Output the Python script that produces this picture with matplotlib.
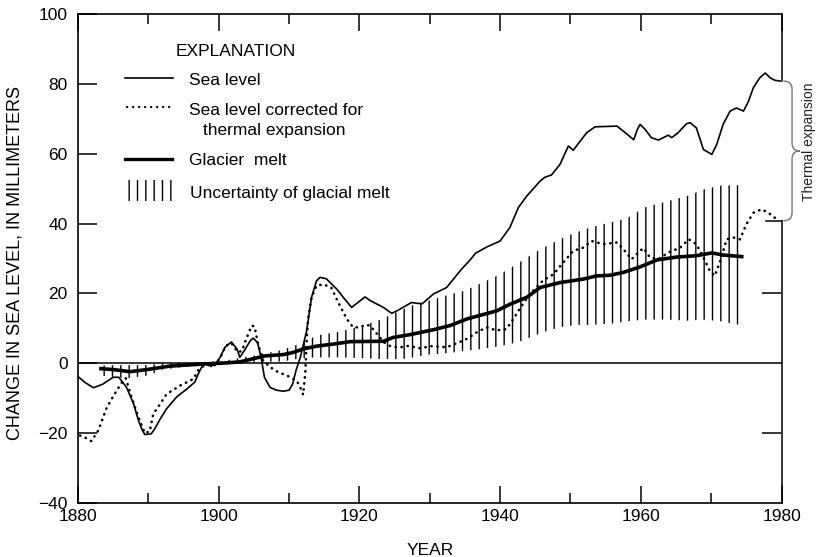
import matplotlib
matplotlib.use("Agg")
import matplotlib.pyplot as plt
import matplotlib.ticker as ticker
from matplotlib.lines import Line2D
from matplotlib.patches import Rectangle, PathPatch
from matplotlib.path import Path

plt.rcParams['font.family'] = ['Liberation Sans', 'DejaVu Sans']
plt.rcParams['hatch.linewidth'] = 1.0
plt.rcParams['hatch.color'] = 'black'

W, H = 816, 557

# sea level (thin solid line)
sea_years = [1880.0, 1881.0, 1882.2, 1883.5, 1885.0, 1885.8, 1886.9, 1887.9, 1888.6, 1889.1,
             1889.5, 1890.4, 1890.9, 1891.7, 1892.6, 1894.0, 1895.5, 1896.6, 1897.1, 1897.6,
             1898.2, 1898.9, 1899.7, 1900.2, 1900.9, 1901.8, 1902.6, 1903.0, 1903.6, 1904.5,
             1904.9, 1905.5, 1906.0, 1906.5, 1907.3, 1908.2, 1909.2, 1910.0, 1910.5, 1911.0,
             1911.6, 1912.5, 1913.2, 1913.9, 1914.4, 1915.3, 1916.8, 1917.7, 1918.9, 1920.1,
             1920.8, 1921.5, 1923.4, 1924.6, 1925.5, 1927.4, 1928.9, 1930.5, 1932.4, 1934.5,
             1935.7, 1936.5, 1938.1, 1940.0, 1941.4, 1942.6, 1943.8, 1945.7, 1946.4, 1947.3,
             1948.5, 1949.7, 1950.4, 1952.3, 1953.5, 1956.6, 1957.5, 1959.0, 1959.5, 1959.9,
             1960.6, 1961.5, 1962.5, 1963.9, 1964.4, 1965.3, 1966.5, 1967.0, 1967.9, 1968.9,
             1970.1, 1970.8, 1971.7, 1972.7, 1973.6, 1974.6, 1975.3, 1976.0, 1976.9, 1977.7,
             1978.4, 1979.1, 1979.8]
sea_mm = [-3.8, -5.5, -7.0, -6.0, -4.0, -4.0, -6.9, -11.6, -16.4, -19.0,
          -20.4, -20.2, -18.8, -15.9, -13.0, -9.7, -7.3, -5.4, -3.0, -1.0,
          0.0, -0.9, 0.3, 1.7, 4.6, 6.1, 4.1, 1.7, 3.5, 6.5,
          7.2, 6.0, 2.0, -4.0, -6.9, -7.7, -8.0, -7.7, -6.0, -2.0,
          1.7, 9.3, 18.9, 23.6, 24.6, 24.2, 21.2, 18.9, 16.0, 17.9,
          19.0, 18.0, 16.0, 14.3, 15.2, 17.4, 17.0, 19.8, 21.7, 26.9,
          29.5, 31.5, 33.3, 35.0, 38.9, 44.6, 47.9, 52.2, 53.3, 53.9,
          56.9, 62.2, 61.0, 66.0, 67.7, 67.9, 66.5, 64.0, 66.9, 68.4,
          67.0, 64.6, 63.9, 65.3, 64.6, 66.0, 68.6, 68.9, 67.4, 61.2,
          59.8, 62.7, 68.4, 72.2, 73.1, 72.2, 75.0, 78.9, 81.7, 83.1,
          81.7, 81.0, 80.8]

# sea level corrected for thermal expansion (dotted line)
corr_years = [1880.3, 1880.8, 1881.9, 1882.9, 1884.1, 1885.5, 1886.4, 1886.8, 1887.5, 1888.5,
              1889.5, 1890.2, 1890.7, 1891.7, 1892.6, 1894.5, 1896.4, 1897.1, 1898.0, 1899.5,
              1900.2, 1901.0, 1901.8, 1902.7, 1903.3, 1903.9, 1904.7, 1905.1, 1905.6, 1906.3,
              1907.3, 1908.5, 1909.7, 1911.1, 1911.8, 1912.0, 1912.3, 1912.5, 1912.7, 1913.2,
              1913.9, 1914.9, 1916.0, 1917.0, 1918.2, 1919.1, 1920.1, 1920.8, 1921.5, 1922.5,
              1923.5, 1924.3, 1925.6, 1927.0, 1928.6, 1930.2, 1932.4, 1933.8, 1935.3, 1936.7,
              1938.1, 1939.5, 1940.9, 1941.9, 1942.6, 1943.6, 1944.8, 1946.1, 1947.6, 1949.0,
              1950.4, 1951.8, 1953.0, 1954.7, 1956.6, 1957.5, 1958.7, 1959.9, 1960.4, 1961.3,
              1962.5, 1963.9, 1965.6, 1966.8, 1967.9, 1968.9, 1969.8, 1970.5, 1971.3, 1972.2,
              1973.2, 1974.1, 1975.0, 1976.0, 1977.2, 1978.4, 1979.6]
corr_mm = [-20.7, -21.0, -22.3, -19.2, -12.6, -7.8, -5.0, -4.3, -9.0, -15.0,
           -20.0, -19.5, -14.5, -11.6, -8.8, -6.4, -4.5, -2.0, -0.5, -0.5,
           1.5, 5.0, 5.8, 3.2, 3.5, 6.9, 10.8, 10.5, 5.5, 0.8,
           -1.1, -2.6, -3.5, -5.0, -7.8, -9.0, -3.0, 6.5, 12.7, 18.9,
           22.2, 22.6, 21.7, 17.4, 12.7, 10.3, 10.3, 11.0, 10.8, 8.4,
           6.0, 5.0, 4.5, 5.0, 4.3, 4.9, 4.6, 5.7, 7.0, 8.9,
           10.3, 9.4, 9.8, 12.7, 15.0, 18.0, 21.0, 23.7, 25.5, 28.9,
           32.2, 33.1, 35.0, 34.1, 34.6, 32.7, 29.8, 32.2, 33.0, 30.3,
           29.8, 31.7, 33.1, 35.5, 34.1, 30.3, 26.5, 25.0, 29.3, 35.5,
           36.0, 35.5, 39.8, 43.1, 44.1, 42.7, 40.8]

# glacier melt (thick line)
melt_years = [1883.0, 1885.0, 1887.4, 1889.8, 1893.1, 1897.8, 1901.0, 1903.0, 1904.9, 1906.5,
              1909.2, 1910.6, 1912.0, 1913.9, 1916.3, 1918.7, 1923.4, 1924.8, 1927.2, 1930.5,
              1932.9, 1935.3, 1939.5, 1941.4, 1943.8, 1945.7, 1948.5, 1951.8, 1953.7, 1955.6,
              1957.5, 1959.9, 1962.3, 1965.1, 1967.9, 1970.1, 1971.7, 1974.6]
melt_mm = [-1.5, -1.8, -2.4, -1.8, -0.8, -0.2, 0.1, 0.4, 1.3, 2.1,
           2.5, 3.1, 4.1, 4.9, 5.5, 6.2, 6.3, 7.4, 8.2, 9.6,
           10.8, 12.7, 15.0, 16.9, 18.9, 21.7, 23.1, 24.1, 25.0, 25.2,
           26.0, 27.6, 29.6, 30.4, 30.8, 31.6, 31.0, 30.5]

# uncertainty of glacial melt (hatched band)
unc_years = [1883, 1887, 1890, 1892, 1896, 1900, 1905, 1909, 1912, 1914,
             1917, 1920, 1923, 1926, 1928, 1930, 1933, 1935, 1937.5, 1940,
             1942.5, 1945, 1947, 1949, 1951, 1953, 1956, 1958, 1960.5, 1964,
             1966.6, 1969, 1971.4, 1974]
unc_low = [-3.5, -4.3, -3.5, -1.8, -0.9, -0.5, 0.4, 0.5, 1.5, 1.7,
           1.7, 1.5, 1.2, 1.2, 1.8, 2.5, 3.0, 3.6, 4.1, 4.9,
           6.0, 8.0, 9.5, 10.5, 11.0, 11.0, 11.4, 12.0, 12.5, 12.5,
           12.2, 12.5, 12.0, 11.0]
unc_high = [-0.6, -0.5, -0.5, 0.0, 0.3, 0.5, 2.2, 3.8, 6.0, 8.0,
            9.0, 10.5, 12.5, 15.3, 17.0, 18.0, 19.8, 20.8, 23.1, 25.5,
            28.6, 31.8, 34.0, 36.0, 37.6, 39.0, 40.5, 41.5, 44.6, 46.5,
            47.9, 49.8, 50.9, 51.0]

yticks = [-40, -20, 0, 20, 40, 60, 80, 100]
right_ticks = [-20, 20]


def fx(px):
    return px / W


def fy(py):
    return 1 - py / H


fig = plt.figure(figsize=(W / 100, H / 100), dpi=100)
ax = fig.add_axes([fx(78), fy(503), (781.5 - 78) / W, (503 - 14) / H])

ax.fill_between(unc_years, unc_low, unc_high, facecolor='none', edgecolor='black',
                linewidth=0, hatch='||', zorder=1)
ax.axhline(0, color='black', lw=1.1, zorder=2)
ax.plot(sea_years, sea_mm, color='black', lw=1.2, zorder=3)
ax.plot(corr_years, corr_mm, color='black', lw=1.9, dashes=(0.1, 2.2),
        dash_capstyle='round', zorder=3)
ax.plot(melt_years, melt_mm, color='black', lw=2.6, solid_capstyle='butt', zorder=4)

ax.set_xlim(1880, 1980)
ax.set_ylim(-40, 100)
ax.xaxis.set_major_locator(ticker.MultipleLocator(20))
ax.xaxis.set_minor_locator(ticker.MultipleLocator(10))
ax.set_yticks(yticks)
ax.tick_params(axis='x', which='major', direction='in', length=12, width=1.1,
               top=True, pad=4, labelsize=12.5)
ax.tick_params(axis='x', which='minor', direction='in', length=7.5, width=1.1, top=True)
ax.tick_params(axis='y', which='major', direction='in', length=13.5, width=1.1,
               pad=7.5, labelsize=12.5)
for s in ['left', 'bottom', 'top']:
    ax.spines[s].set_linewidth(1.2)
ax.spines['right'].set_visible(False)

ax.set_xlabel('YEAR', fontsize=12.5, labelpad=14)
ax.set_ylabel('CHANGE IN SEA LEVEL, IN MILLIMETERS', fontsize=13)
ax.yaxis.set_label_coords(-0.078, 0.49)

# right spine, broken where the thermal expansion bracket sits
yt = ax.get_yaxis_transform()
ax.plot([1, 1], [100, sea_mm[-1]], transform=yt, color='black', lw=1.1, clip_on=False)
ax.plot([1, 1], [corr_mm[-1], -40], transform=yt, color='black', lw=1.1, clip_on=False)
ax.plot([0.978, 1], [corr_mm[-1], corr_mm[-1]], transform=yt, color='black', lw=1.1,
        clip_on=False)

rax = ax.twinx()
rax.set_ylim(-40, 100)
rax.set_yticks(right_ticks)
rax.tick_params(axis='y', direction='in', length=13.5, width=1.1, labelright=False)
for s in rax.spines.values():
    s.set_visible(False)

# curly bracket for thermal expansion
top, bot = sea_mm[-1], corr_mm[-1]
mid = (top + bot) / 2
r = 2.3
xe, xm, xt = 1.003, 1.015, 1.026
verts = [(xe, top), (xm, top), (xm, top - r), (xm, mid + r), (xm, mid), (xt, mid),
         (xm, mid), (xm, mid - r), (xm, bot + r), (xm, bot), (xe, bot)]
codes = [Path.MOVETO, Path.CURVE3, Path.CURVE3, Path.LINETO, Path.CURVE3, Path.CURVE3,
         Path.CURVE3, Path.CURVE3, Path.LINETO, Path.CURVE3, Path.CURVE3]
ax.add_patch(PathPatch(Path(verts, codes), transform=yt, facecolor='none',
                       edgecolor='#777777', lw=1.0, clip_on=False))
ax.text(1.0385, mid + 2.5, 'Thermal expansion', transform=yt, rotation=90,
        ha='center', va='center', fontsize=10, color='#222222', clip_on=False)

# explanation box
fig.text(fx(236), fy(56), 'EXPLANATION', ha='center', va='baseline', fontsize=12.5)
fig.add_artist(Line2D([fx(125), fx(173)], [fy(77.7), fy(77.7)], color='black', lw=1.2))
fig.text(fx(189), fy(85), 'Sea level', va='baseline', fontsize=12.5)
fig.add_artist(Line2D([fx(127), fx(171)], [fy(107.3), fy(107.3)], color='black', lw=1.6,
                      dashes=(0.1, 2.6), dash_capstyle='round'))
fig.text(fx(189), fy(115), 'Sea level corrected for', va='baseline', fontsize=12.5)
fig.text(fx(203), fy(135), 'thermal expansion', va='baseline', fontsize=12.5)
fig.add_artist(Line2D([fx(125), fx(172)], [fy(159.3), fy(159.3)], color='black', lw=2.4))
fig.text(fx(189), fy(165), 'Glacier  melt', va='baseline', fontsize=12.5)
fig.add_artist(Rectangle((fx(125), fy(201)), 48 / W, 21 / H, transform=fig.transFigure,
                         facecolor='none', edgecolor='black', lw=0, hatch='||'))
fig.text(fx(190), fy(198), 'Uncertainty of glacial melt', va='baseline', fontsize=12.5)

fig.savefig('out.png', dpi=100)
